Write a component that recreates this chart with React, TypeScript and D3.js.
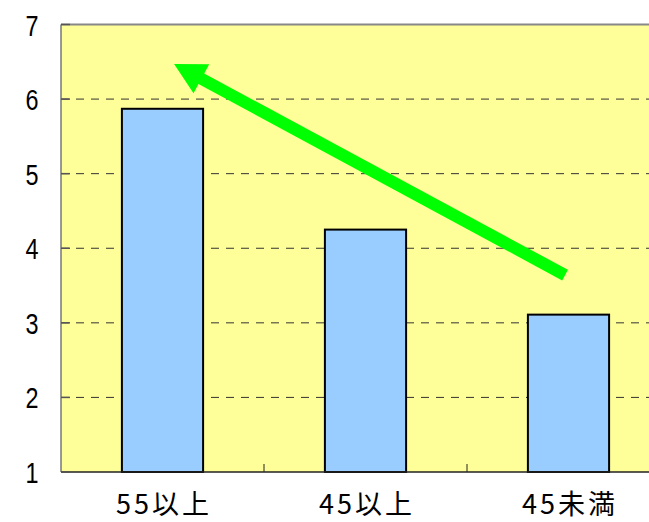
import React from "react";
import * as d3 from "d3";

const categories = ["55以上", "45以上", "45未満"];
const values = [5.87, 4.25, 3.11];
const yTicks = [1, 2, 3, 4, 5, 6, 7];
// arrow annotation in data coords: [category position, value]
const arrowTail = [2.483, 3.64];
const arrowTip = [0.557, 6.47];

export default function App() {
  const W = 649, H = 522;
  const left = 61, top = 24.5, bottom = 472, right = 670;
  const x = d3.scaleBand().domain(categories).range([left, right]).paddingInner(0).paddingOuter(0);
  const xl = d3.scaleLinear().domain([0, 3]).range([left, right]);
  const y = d3.scaleLinear().domain([1, 7]).range([bottom, top]);
  const barW = x.bandwidth() * 0.4;

  const tx = xl(arrowTail[0]), ty = y(arrowTail[1]);
  const hx = xl(arrowTip[0]), hy = y(arrowTip[1]);
  const dx = hx - tx, dy = hy - ty;
  const len = Math.hypot(dx, dy);
  const ux = dx / len, uy = dy / len;
  const px = -uy, py = ux;
  const sw = 6, hl = 31, hw = 16.5;
  const bx = hx - ux * hl, by = hy - uy * hl;
  const pts = [
    [tx + px * sw, ty + py * sw],
    [bx + px * sw, by + py * sw],
    [bx + px * hw, by + py * hw],
    [hx, hy],
    [bx - px * hw, by - py * hw],
    [bx - px * sw, by - py * sw],
    [tx - px * sw, ty - py * sw],
  ];

  return (
    <div style={{ position: "fixed", left: 0, top: 0 }}>
      <svg width={W} height={H} style={{ display: "block" }}>
        <rect x={0} y={0} width={W} height={H} fill="#ffffff" />
        <rect x={left} y={top} width={right - left} height={bottom - top} fill="#ffff99" />
        {yTicks.filter((t) => t > 1 && t < 7).map((t) => (
          <line key={t} x1={left} x2={right} y1={y(t)} y2={y(t)} stroke="#333" strokeWidth={1} strokeDasharray="8,7" />
        ))}
        {categories.map((c, i) => (
          <rect key={c} x={x(c)! + (x.bandwidth() - barW) / 2} y={y(values[i])} width={barW} height={bottom - y(values[i])}
            fill="#99ccff" stroke="#000" strokeWidth={2} />
        ))}
        <line x1={left} x2={right} y1={top} y2={top} stroke="#888" strokeWidth={2} />
        <line x1={left} x2={left} y1={top} y2={bottom} stroke="#777" strokeWidth={1.5} />
        <line x1={left} x2={right} y1={bottom} y2={bottom} stroke="#222" strokeWidth={1.5} />
        {yTicks.map((t) => (
          <line key={t} x1={left} x2={left + 9} y1={y(t)} y2={y(t)} stroke="#555" strokeWidth={1.5} />
        ))}
        {d3.range(1, 3).map((i) => (
          <line key={i} x1={xl(i)} x2={xl(i)} y1={bottom} y2={bottom - 8} stroke="#222" strokeWidth={1} />
        ))}
        {yTicks.map((t) => (
          <text key={t} transform={`translate(38.5, ${y(t) + 11}) scale(0.78, 1)`} textAnchor="end" fontSize={30}
            fontFamily="'Liberation Sans', sans-serif" fill="#000">{t}</text>
        ))}
        {categories.map((c) => (
          <text key={c} x={x(c)! + x.bandwidth() / 2 + 1.5} y={514} textAnchor="middle" fontSize={27} letterSpacing={3}
            fontFamily="'Noto Sans CJK JP', sans-serif" fill="#000">{c}</text>
        ))}
        <polygon points={pts.map((p) => p.join(",")).join(" ")} fill="#00ff00" />
      </svg>
    </div>
  );
}
